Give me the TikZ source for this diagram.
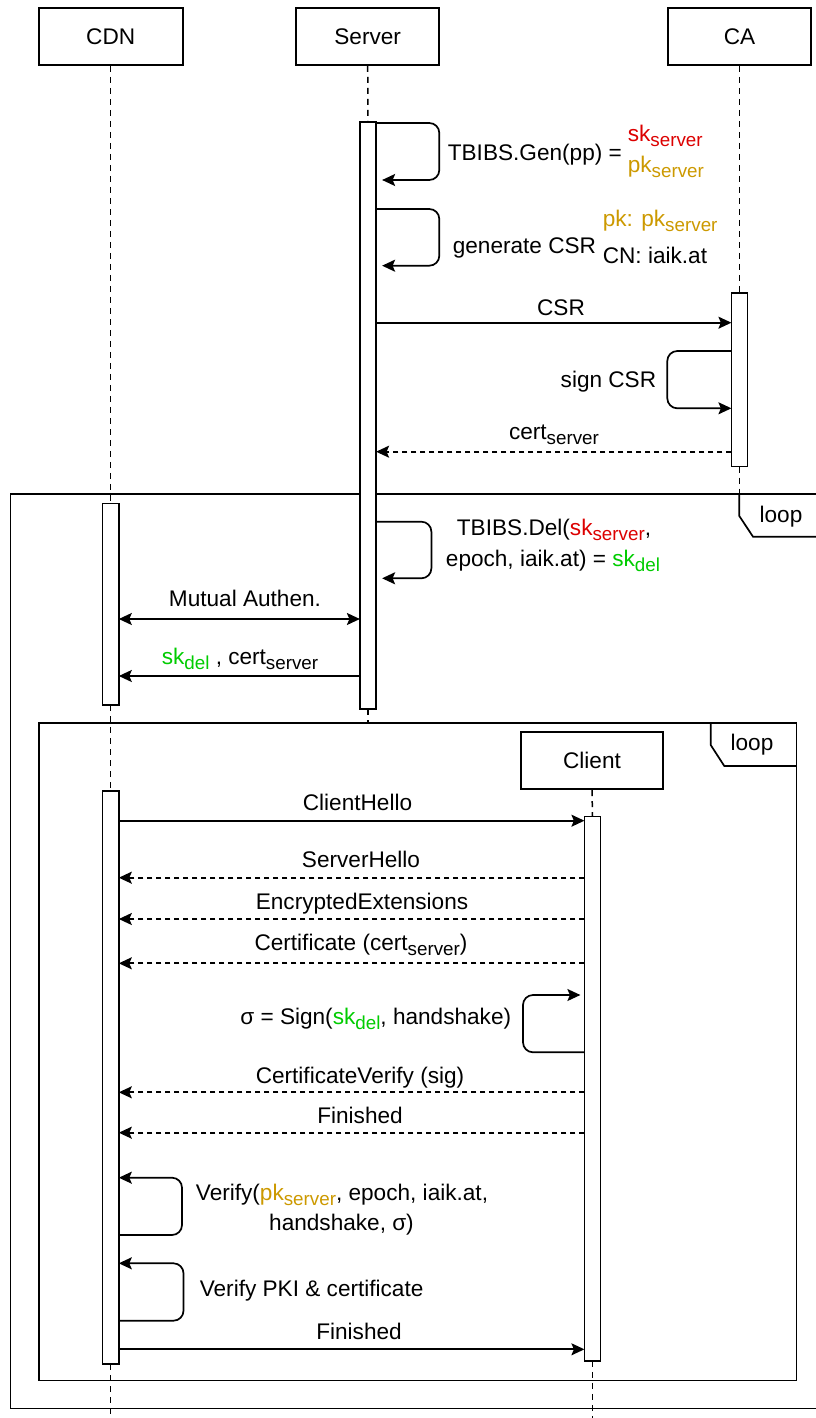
\documentclass[tikz,border=0pt]{standalone}
\usepackage{fontspec}
\setmainfont{Liberation Sans}
\usetikzlibrary{arrows.meta}
\definecolor{skred}{RGB}{220,0,0}
\definecolor{pkgold}{RGB}{204,153,0}
\definecolor{delgreen}{RGB}{0,204,0}
% lowered, smaller text for key subscripts
\newcommand\lw[1]{\raisebox{-5pt}{\fontsize{18.8}{18.8}\selectfont #1}}

\begin{document}
\begin{tikzpicture}[x=1pt,y=-1pt, line width=1.7pt,
  every node/.style={font=\fontsize{22.6}{26}\selectfont},
  actor/.style={draw, fill=white, minimum width=143pt, minimum height=57pt, inner sep=0pt},
  bar/.style={draw, fill=white, minimum width=14.5pt, inner sep=0pt},
  life/.style={dash pattern=on 6pt off 5pt, line width=1.5pt},
  tip/.style={-{Stealth[length=13pt,width=12pt,inset=2.5pt]}},
  msg/.style={tip},
  reply/.style={msg, dash pattern=on 5pt off 4pt},
  loopback/.style={msg, rounded corners=10pt},
  lbl/.style={anchor=base, inner sep=0pt},
  lblw/.style={anchor=base west, inner sep=0pt},
  lble/.style={anchor=base east, inner sep=0pt},
  frame/.style={line width=1.7pt}
]
\useasboundingbox (0,0) rectangle (815,1418);

% combined fragments (loops)
\draw[frame] (10.4,494) rectangle (817,1408.5);
\draw[frame] (739.3,494) -- (739.3,516) -- (753,536.7) -- (817,536.7);
\node[lbl] (outerloop) at (781,522) {loop};
\draw[frame] (39,723) rectangle (796.5,1380.5);
\draw[frame] (710.7,723) -- (710.7,745) -- (724.3,766) -- (796.5,766);
\node[lbl] (innerloop) at (752,750) {loop};

% participants
\node[actor, minimum width=144pt] (cdn) at (110.7,36.5) {CDN};
\node[actor] (server) at (367.7,36.5) {Server};
\node[actor] (ca) at (739.5,36.5) {CA};
\node[actor, minimum width=142.5pt, minimum height=57.6pt] (client) at (592,760.5) {Client};

% activation bars
\node[bar, minimum height=585.3pt] (sbar) at (368,415.65) {};
\node[bar, minimum height=171.7pt] (cabar) at (739.5,379.85) {};
\node[bar, minimum height=200pt] (cdnbar1) at (110.7,604.3) {};
\node[bar, minimum height=571.6pt] (cdnbar2) at (110.7,1077.5) {};
\node[bar, minimum height=542.7pt] (cbar) at (592.5,1088.65) {};

% lifeline ends
\coordinate (cdnend) at (110.7,1418);
\coordinate (send) at (368,723);
\coordinate (caend) at (739.5,494);
\coordinate (clend) at (592.5,1418);

% lifelines
\draw[life] (cdn.south) -- (cdnbar1.north);
\draw[life] (cdnbar1.south) -- (cdnbar2.north);
\draw[life] (cdnbar2.south) -- (cdnend);
\draw[life] (server.south) -- (sbar.north);
\draw[life] (sbar.south) -- (send);
\draw[life] (ca.south) -- (cabar.north);
\draw[life] (cabar.south) -- (caend);
\draw[life] (client.south) -- (cbar.north);
\draw[life] (cbar.south) -- (clend);

% redraw bars above lifelines
\foreach \b in {sbar,cabar,cdnbar1,cdnbar2,cbar}
  \draw[fill=white] (\b.north west) rectangle (\b.south east);

% key generation
\draw[loopback, shorten >=6pt] (sbar.east |- 0,123) -- (439.3,123) -- (439.3,180) -- (sbar.east |- 0,180);
\node[lblw] (gen) at (447,160) {TBIBS.Gen(pp) =};
\node[lblw, text=skred] (sks) at (627,142) {sk\lw{server}};
\node[lblw, text=pkgold] (pks) at (627,172) {pk\lw{server}};

% CSR generation
\draw[loopback, shorten >=6pt] (sbar.east |- 0,209) -- (439.3,209) -- (439.3,265.7) -- (sbar.east |- 0,265.7);
\node[lblw] (gencsr) at (452,253) {generate CSR};
\node[lblw, text=pkgold] (csrpk) at (602,226) {pk: pk\lw{server}};
\node[lblw] (csrcn) at (602,263) {CN: iaik.at};

% certification
\draw[msg] (sbar.east |- 0,322.7) -- (cabar.west |- 0,322.7)
  node[lbl] (csrl) at (561,315) {CSR};
\draw[loopback] (cabar.west |- 0,351) -- (667.3,351) -- (667.3,408.3) -- (cabar.west |- 0,408.3);
\node[lble] (signcsr) at (657,387) {sign CSR};
\draw[reply] (cabar.west |- 0,451.7) -- (sbar.east |- 0,451.7)
  node[lbl] (certl) at (554,439.3) {cert\lw{server}};

% delegation
\draw[loopback, shorten >=6pt] (sbar.east |- 0,521.7) -- (431.4,521.7) -- (431.4,578.3) -- (sbar.east |- 0,578.3);
\node[lbl] (del1) at (554,535) {TBIBS.Del(\textcolor{skred}{sk\lw{server}},};
\node[lbl] (del2) at (553,566) {epoch, iaik.at) = \textcolor{delgreen}{sk\lw{del}}};
\draw[{Stealth[length=13pt,width=12pt,inset=2.5pt]}-{Stealth[length=13pt,width=12pt,inset=2.5pt]}]
  (cdnbar1.east |- 0,619) -- (sbar.west |- 0,619)
  node[lbl] (mutual) at (245,606.7) {Mutual Authen.};
\draw[msg] (sbar.west |- 0,676) -- (cdnbar1.east |- 0,676)
  node[lbl] (skdel) at (240,664) {\textcolor{delgreen}{sk\lw{del}} , cert\lw{server}};

% TLS handshake
\draw[msg] (cdnbar2.east |- 0,820.7) -- (cbar.west |- 0,820.7)
  node[lbl] (chello) at (357.5,810) {ClientHello};
\draw[reply] (cbar.west |- 0,877.7) -- (cdnbar2.east |- 0,877.7)
  node[lbl] (shello) at (361,867.7) {ServerHello};
\draw[reply] (cbar.west |- 0,919) -- (cdnbar2.east |- 0,919)
  node[lbl] (encext) at (362,909) {EncryptedExtensions};
\draw[reply] (cbar.west |- 0,963.3) -- (cdnbar2.east |- 0,963.3)
  node[lbl] (certmsg) at (361,950.5) {Certificate (cert\lw{server})};
\draw[loopback, shorten >=4pt] (cbar.west |- 0,1052.3) -- (523,1052.3) -- (523,995) -- (cbar.west |- 0,995);
\node[lble] (sign) at (512,1024) {σ = Sign(\textcolor{delgreen}{sk\lw{del}}, handshake)};
\draw[reply] (cbar.west |- 0,1092.3) -- (cdnbar2.east |- 0,1092.3)
  node[lbl] (cverify) at (360,1083.3) {CertificateVerify (sig)};
\draw[reply] (cbar.west |- 0,1132.7) -- (cdnbar2.east |- 0,1132.7)
  node[lbl] (sfin) at (360,1123.3) {Finished};

% verification at the CDN side
\draw[loopback] (cdnbar2.east |- 0,1235) -- (182,1235) -- (182,1177.7) -- (cdnbar2.east |- 0,1177.7);
\node[lbl] (ver1) at (342,1200) {Verify(\textcolor{pkgold}{pk\lw{server}}, epoch, iaik.at,};
\node[lbl] (ver2) at (341.5,1230) {handshake, σ)};
\draw[loopback] (cdnbar2.east |- 0,1320.7) -- (183.5,1320.7) -- (183.5,1263.3) -- (cdnbar2.east |- 0,1263.3);
\node[lblw] (verpki) at (199,1296) {Verify PKI \& certificate};
\draw[msg] (cdnbar2.east |- 0,1349.3) -- (cbar.west |- 0,1349.3)
  node[lbl] (cfin) at (359,1339.3) {Finished};

\end{tikzpicture}
\end{document}
